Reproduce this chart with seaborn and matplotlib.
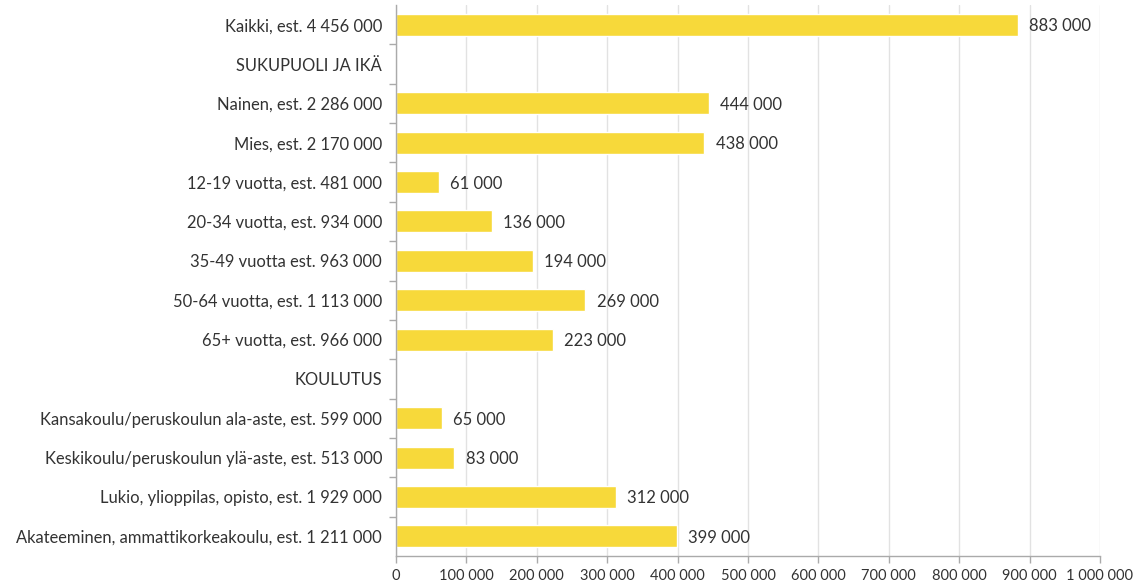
import numpy as np
import pandas as pd
import matplotlib
matplotlib.use("Agg")
import matplotlib.pyplot as plt
import seaborn as sns
from matplotlib.ticker import FixedLocator, FuncFormatter

categories = [
    "Kaikki, est. 4 456 000",
    "SUKUPUOLI JA IKÄ",
    "Nainen, est. 2 286 000",
    "Mies, est. 2 170 000",
    "12-19 vuotta, est. 481 000",
    "20-34 vuotta, est. 934 000",
    "35-49 vuotta est. 963 000",
    "50-64 vuotta, est. 1 113 000",
    "65+ vuotta, est. 966 000",
    "KOULUTUS",
    "Kansakoulu/peruskoulun ala-aste, est. 599 000",
    "Keskikoulu/peruskoulun ylä-aste, est. 513 000",
    "Lukio, ylioppilas, opisto, est. 1 929 000",
    "Akateeminen, ammattikorkeakoulu, est. 1 211 000",
]
values = [883000, np.nan, 444000, 438000, 61000, 136000, 194000, 269000, 223000,
          np.nan, 65000, 83000, 312000, 399000]
xticks = [0, 100000, 200000, 300000, 400000, 500000, 600000, 700000, 800000, 900000, 1000000]

df = pd.DataFrame({"category": categories, "value": values})

sns.set_theme(style="white")
plt.rcParams["font.family"] = ["Lato", "DejaVu Sans"]

text_col = "#333333"
fig = plt.figure(figsize=(11.42, 5.87), dpi=100)
ax = fig.add_axes([396 / 1142, 1 - 556 / 587, 704 / 1142, 551 / 587])

sns.barplot(data=df, y="category", x="value", order=categories, orient="h",
            color="#F7D93A", saturation=1, width=0.56, ax=ax, errorbar=None)

ax.set_xlim(0, 1000000)
ax.set_ylim(len(categories) - 0.5, -0.5)
ax.set_xlabel("")
ax.set_ylabel("")

fmt = lambda v: f"{int(v):,}".replace(",", " ")
ax.xaxis.set_major_locator(FixedLocator(xticks))
ax.xaxis.set_major_formatter(FuncFormatter(lambda v, p: fmt(v)))
ax.grid(axis="x", color="#E2E2E2", linewidth=1)
ax.set_axisbelow(True)

for i, v in enumerate(values):
    if not np.isnan(v):
        ax.text(v + 16000, i, fmt(v), va="center_baseline", ha="left",
                fontsize=12, color=text_col)

for s in ["top", "right"]:
    ax.spines[s].set_visible(False)
for s in ["left", "bottom"]:
    ax.spines[s].set_color("#AAAAAA")
    ax.spines[s].set_linewidth(1)

ax.tick_params(axis="x", bottom=True, length=5, width=1, color="#AAAAAA",
               labelsize=10.5, labelcolor=text_col, pad=4)
ax.tick_params(axis="y", which="major", left=False, length=0,
               labelsize=11.9, labelcolor=text_col, pad=10)
ax.set_yticks(np.arange(len(categories) - 1) + 0.5, minor=True)
ax.tick_params(axis="y", which="minor", left=True, length=5, width=1, color="#AAAAAA")

fig.savefig("out.png", dpi=100)
